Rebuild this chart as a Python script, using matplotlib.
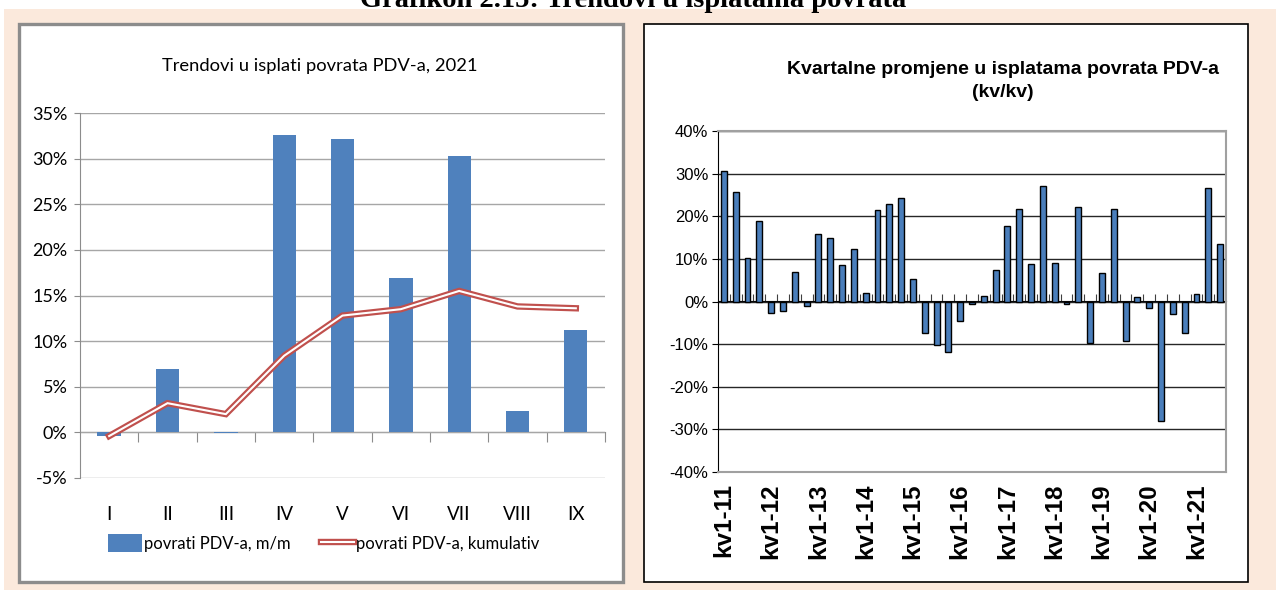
import matplotlib
matplotlib.use('Agg')
import matplotlib.pyplot as plt
from matplotlib.patches import Patch, Rectangle
from matplotlib.lines import Line2D
from matplotlib.legend_handler import HandlerTuple
from matplotlib.ticker import PercentFormatter, NullFormatter
import numpy as np

plt.rcParams['axes.unicode_minus'] = False

# --- left chart: monthly VAT refunds 2021 ---
months = ['I', 'II', 'III', 'IV', 'V', 'VI', 'VII', 'VIII', 'IX']
refunds_mom = [-0.4, 7.0, -0.1, 32.6, 32.2, 16.9, 30.3, 2.3, 11.2]
refunds_cum = [-0.4, 3.2, 2.0, 8.4, 12.8, 13.5, 15.5, 13.8, 13.6]

# --- right chart: quarterly changes kv1-11 .. kv3-21 ---
years = list(range(11, 22))
quarters = [f'kv{q}-{y}' for y in years for q in (1, 2, 3, 4)][:43]
refunds_qoq = [30.7, 25.8, 10.2, 18.8, -2.6, -2.3, 6.9, -1.0, 15.9, 14.8,
               8.6, 12.3, 2.0, 21.5, 22.9, 24.3, 5.3, -7.5, -10.2, -11.8,
               -4.5, -0.6, 1.2, 7.5, 17.7, 21.8, 8.8, 27.2, 9.1, -0.5,
               22.1, -9.7, 6.7, 21.8, -9.3, 1.0, -1.6, -28.0, -2.9, -7.4,
               1.8, 26.7, 13.4]

W, H = 1276, 590
PEACH = '#fbe9dc'
BLUE = '#4f81bd'
RED = '#c0504d'
NARROW = 'Lato'
ARIAL = 'Liberation Sans'


def fx(px):
    return px / W


def fy(py):
    return 1 - py / H


fig = plt.figure(figsize=(W / 100, H / 100), dpi=100)
fig.patch.set_facecolor('white')

# page background and the two chart frames
fig.add_artist(Rectangle((fx(4), 0), 1 - fx(4), fy(9), transform=fig.transFigure,
                         facecolor=PEACH, edgecolor='none', zorder=-5))
fig.add_artist(Rectangle((fx(19), fy(582)), fx(604), 558 / H, transform=fig.transFigure,
                         facecolor='white', edgecolor='#8c8c8c', lw=2.4, zorder=-4))
fig.add_artist(Rectangle((fx(644), fy(582)), fx(604), 558 / H, transform=fig.transFigure,
                         facecolor='white', edgecolor='black', lw=1.2, zorder=-4))

# clipped document caption at the very top
fig.text(fx(633), fy(7), 'Grafikon 2.15: Trendovi u isplatama povrata', ha='center',
         va='baseline', family='Liberation Serif', weight='bold', fontsize=20.5)

# ---------------- left chart ----------------
ax1 = fig.add_axes([fx(80), fy(478), fx(525), 365 / H])
ax1.set_facecolor('none')
x = np.arange(len(months))
ax1.bar(x, refunds_mom, 0.4, color=BLUE, zorder=2)
ax1.plot(x, refunds_cum, color=RED, lw=4.6, zorder=3, solid_joinstyle='miter')
ax1.plot(x, refunds_cum, color='white', lw=1.5, zorder=4, solid_joinstyle='miter')

ylo, yhi = -5, 35
ax1.set_xlim(-0.5, len(months) - 0.5)
ax1.set_ylim(ylo, yhi)
ax1.set_yticks(np.arange(ylo, yhi + 1, 5))
ax1.yaxis.set_major_formatter(PercentFormatter(decimals=0))
ax1.yaxis.grid(True, color='#a6a6a6', lw=1.0)
ax1.set_axisbelow(True)
for s in ('top', 'right', 'bottom'):
    ax1.spines[s].set_visible(False)
ax1.spines['left'].set_color('#8c8c8c')
ax1.tick_params(axis='y', length=4, color='#8c8c8c', pad=5, labelsize=13)
ax1.set_xticks(x, months)
ax1.tick_params(axis='x', length=0, pad=20, labelsize=13.5)
for lab in ax1.get_xticklabels() + ax1.get_yticklabels():
    lab.set_family(NARROW)

zero1 = ax1.secondary_xaxis((0 - ylo) / (yhi - ylo))
zero1.set_xticks(np.arange(0.5, len(months), 1))
zero1.xaxis.set_major_formatter(NullFormatter())
zero1.tick_params(length=7, color='#8c8c8c')
zero1.spines['bottom'].set_color('#8c8c8c')

fig.text(fx(320), fy(66), 'Trendovi u isplati povrata PDV-a, 2021', ha='center',
         va='center', family=NARROW, fontsize=13.2)

handles = [Patch(facecolor=BLUE, edgecolor='none'),
           (Line2D([], [], color=RED, lw=4.6), Line2D([], [], color='white', lw=1.5))]
fig.legend(handles, ['povrati PDV-a, m/m', 'povrati PDV-a, kumulativ'],
           handler_map={tuple: HandlerTuple(ndivide=1)}, loc='center',
           bbox_to_anchor=(fx(324), fy(543)), ncol=2, frameon=False,
           prop={'family': NARROW, 'size': 12}, handlelength=2.0, handleheight=1.2,
           handletextpad=0.15, columnspacing=1.8)

# ---------------- right chart ----------------
ax2 = fig.add_axes([fx(718), fy(472), fx(508), 341 / H])
ax2.set_facecolor('none')
xq = np.arange(len(refunds_qoq))
ax2.bar(xq, refunds_qoq, 0.5, color='#4a7ebb', edgecolor='black', lw=1.0, zorder=2)
ax2.set_xlim(-0.5, len(refunds_qoq) - 0.5)
ax2.set_ylim(-40, 40)
ax2.set_yticks(np.arange(-40, 41, 10))
ax2.yaxis.set_major_formatter(PercentFormatter(decimals=0))
ax2.yaxis.grid(True, color='#262626', lw=1.0)
ax2.set_axisbelow(True)
for s in ('top', 'right', 'bottom'):
    ax2.spines[s].set_color('#a0a0a0')
    ax2.spines[s].set_linewidth(1.5)
ax2.spines['left'].set_color('black')
ax2.tick_params(axis='y', length=4, color='black', pad=3, labelsize=12)
for lab in ax2.get_yticklabels():
    lab.set_family(ARIAL)

first_q = [i for i, q in enumerate(quarters) if q.startswith('kv1')]
ax2.set_xticks(first_q, [quarters[i] for i in first_q], rotation=90)
ax2.tick_params(axis='x', length=0, pad=8, labelsize=17.5)
for lab in ax2.get_xticklabels():
    lab.set_family(ARIAL)
    lab.set_weight('bold')

zero2 = ax2.secondary_xaxis(0.5)
zero2.set_xticks(np.arange(0.5, len(refunds_qoq) - 1, 1))
zero2.xaxis.set_major_formatter(NullFormatter())
zero2.tick_params(length=5, color='#404040')
zero2.spines['bottom'].set_color('black')
zero2.spines['bottom'].set_linewidth(1.2)

fig.text(fx(1003), fy(81), 'Kvartalne promjene u isplatama povrata PDV-a\n(kv/kv)',
         ha='center', va='center', family=ARIAL, weight='bold', fontsize=14,
         linespacing=1.45)

fig.savefig('out.png', dpi=100, facecolor=fig.get_facecolor())
